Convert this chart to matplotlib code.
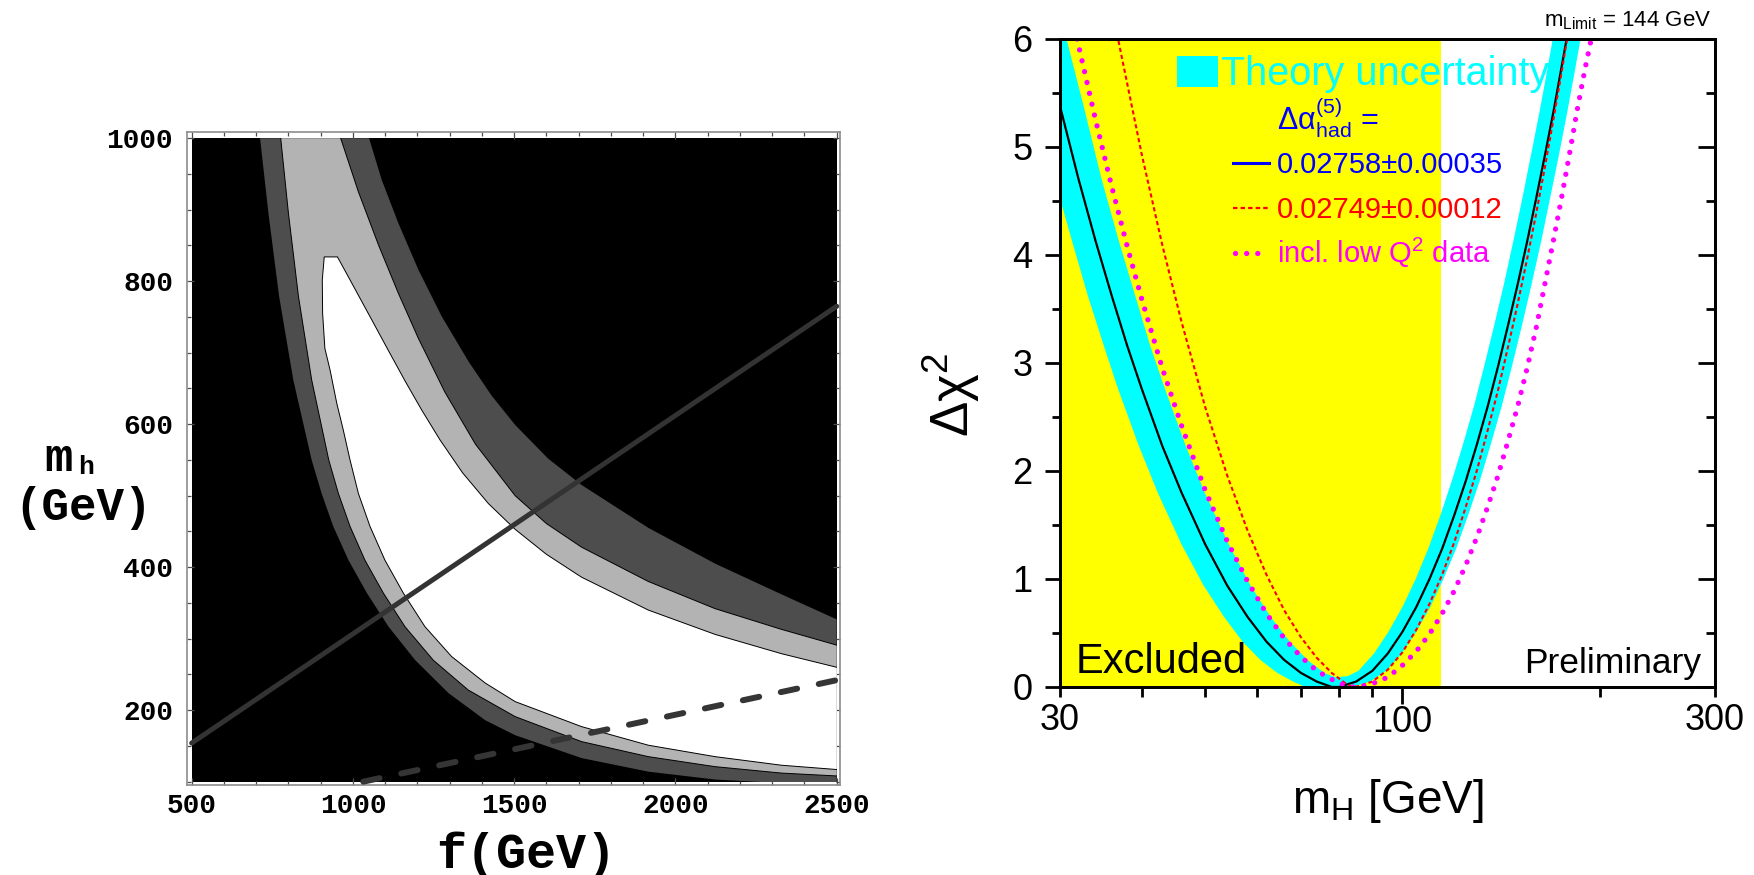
import matplotlib
matplotlib.use('Agg')
import matplotlib.pyplot as plt
from matplotlib.patches import Rectangle
from matplotlib.ticker import MultipleLocator, FixedLocator, FuncFormatter

plt.rcParams['font.family'] = ['Liberation Sans', 'DejaVu Sans']
plt.rcParams['mathtext.fontset'] = 'custom'
plt.rcParams['mathtext.rm'] = 'Liberation Sans'
plt.rcParams['mathtext.it'] = 'Liberation Sans:italic'
plt.rcParams['mathtext.bf'] = 'Liberation Sans:bold'

# ---------------- left panel: (f, m_h) plane, contour edges
f_lim = [500, 2500]
mh_lim = [100, 1000]
f_ticks = [500, 1000, 1500, 2000, 2500]
mh_ticks = [200, 400, 600, 800, 1000]

# dark grey band: lower-left edge and upper-right edge
dark_lo_f = [712, 738, 771, 815, 872, 903, 939, 986, 1043, 1110, 1193, 1296, 1410, 1503, 1709, 1916, 2123, 2247, 2500]
dark_lo_m = [1000, 895, 779, 662, 550, 503, 457, 410, 364, 317, 270, 224, 186, 165, 133, 114, 103, 100, 94]
dark_hi_f = [1050, 1089, 1141, 1203, 1275, 1358, 1430, 1503, 1605, 1709, 1916, 2123, 2329, 2500]
dark_hi_m = [1000, 942, 881, 816, 751, 688, 640, 599, 552, 515, 455, 405, 362, 327]
# light grey band
light_lo_f = [776, 800, 831, 872, 925, 955, 991, 1037, 1094, 1161, 1249, 1358, 1503, 1709, 1916, 2123, 2329, 2500]
light_lo_m = [1000, 895, 779, 662, 550, 503, 457, 410, 364, 317, 270, 228, 191, 156, 135, 121, 112, 108]
light_hi_f = [962, 1017, 1079, 1141, 1203, 1285, 1380, 1503, 1600, 1709, 1916, 2123, 2329, 2500]
light_hi_m = [1000, 925, 851, 783, 720, 645, 572, 500, 461, 428, 380, 342, 313, 291]
# allowed (white) region
white_lo_f = [911, 905, 906, 913, 929, 950, 970, 991, 1017, 1053, 1099, 1156, 1223, 1306, 1410, 1503, 1709, 1916, 2123, 2329, 2500]
white_lo_m = [834, 802, 755, 706, 676, 629, 592, 550, 503, 457, 410, 364, 317, 275, 238, 212, 177, 151, 135, 123, 117]
white_hi_f = [952, 986, 1027, 1068, 1110, 1161, 1213, 1270, 1340, 1420, 1503, 1600, 1709, 1916, 2123, 2329, 2500]
white_hi_m = [834, 806, 772, 738, 703, 661, 620, 578, 532, 489, 453, 418, 386, 340, 306, 279, 260]

solid_f = [500, 2500]
solid_m = [154, 765]
dashed_f = [1032, 2500]
dashed_m = [100, 242]

# ---------------- right panel: delta chi^2 vs m_H
lep_limit = 114.4
fit_mh = [30, 32, 34, 36, 38, 40, 43, 46, 50, 54, 58, 62, 66, 70, 74, 78, 80, 85, 90, 95, 100,
          105, 110, 115, 120, 125, 130, 135, 140, 145, 150, 155, 160, 165, 170, 175, 180]
fit_chi2 = [5.38, 4.71, 4.13, 3.62, 3.16, 2.76, 2.23, 1.80, 1.32, 0.94, 0.65, 0.42, 0.25, 0.13, 0.05, 0.00, 0.00,
            0.05, 0.15, 0.31, 0.51, 0.74, 1.00, 1.28, 1.59, 1.91, 2.25, 2.60, 2.97, 3.35, 3.73, 4.12, 4.52,
            4.92, 5.32, 5.74, 6.15]

# theory band: lower envelope (outer edge) and upper envelope (inner edge)
band_lo_mh = [27.6, 29.4, 31.3, 33.1, 35.0, 36.8, 39.6, 42.3, 46.0, 49.7, 53.4, 57.0, 60.7, 64.4, 68.1, 71.0,
              84.0, 89.3, 94.5, 99.8, 105.0, 110.3, 115.5, 120.8, 126.0, 131.3, 136.5, 141.8, 147.0, 152.3,
              157.5, 162.8, 168.0, 173.3, 178.5, 183.8, 189.0]
band_lo_chi2 = [5.38, 4.71, 4.13, 3.62, 3.16, 2.76, 2.23, 1.80, 1.32, 0.94, 0.65, 0.42, 0.25, 0.13, 0.05, 0.00,
                0.00, 0.05, 0.15, 0.31, 0.51, 0.74, 1.00, 1.28, 1.59, 1.91, 2.25, 2.60, 2.97, 3.35,
                3.73, 4.12, 4.52, 4.92, 5.32, 5.74, 6.15]
band_hi_mh = [29.6, 30.7, 32.6, 34.7, 36.9, 39.1, 41.2, 43.4, 46.7, 49.9, 54.3, 58.6, 62.9, 67.3, 71.6, 76.0,
              79.0, 82.5, 85.7, 90.5, 95.2, 100.0, 104.8, 109.5, 114.3, 119.0, 123.8, 128.6, 133.3, 138.1,
              142.9, 147.6, 152.4, 157.1, 161.9, 166.7, 171.4]
band_hi_chi2 = [6.60, 6.00, 5.38, 4.71, 4.13, 3.62, 3.16, 2.76, 2.23, 1.80, 1.32, 0.94, 0.65, 0.42, 0.25, 0.13,
                0.09, 0.10, 0.15, 0.31, 0.51, 0.74, 1.00, 1.28, 1.59, 1.91, 2.25, 2.60, 2.97, 3.35,
                3.73, 4.12, 4.52, 4.92, 5.32, 5.74, 6.15]

# dAlpha = 0.02749 +- 0.00012
alt_mh = [36.5, 37, 40, 43, 46, 50, 54, 58, 62, 66, 70, 74, 78, 82, 84, 86, 90, 95, 100, 105, 110, 115,
          120, 125, 130, 135, 140, 145, 150, 155, 160, 165, 170, 175, 180]
alt_chi2 = [6.11, 5.93, 4.93, 4.09, 3.38, 2.59, 1.96, 1.45, 1.04, 0.71, 0.46, 0.27, 0.13, 0.03, 0.00, 0.01,
            0.05, 0.16, 0.32, 0.53, 0.77, 1.04, 1.34, 1.67, 2.01, 2.38, 2.75, 3.15, 3.55, 3.96, 4.38,
            4.81, 5.25, 5.69, 6.14]

# including low-Q^2 data
lowq_mh = [31.6, 32, 34, 36, 38, 40, 43, 46, 50, 54, 58, 62, 66, 70, 74, 78, 82, 84, 86, 90, 95, 100, 105,
           110, 115, 120, 125, 130, 135, 140, 145, 150, 155, 160, 165, 170, 175, 180, 185, 190, 195]
lowq_chi2 = [6.10, 5.95, 5.25, 4.63, 4.08, 3.59, 2.95, 2.42, 1.82, 1.35, 0.98, 0.68, 0.45, 0.28, 0.15, 0.07,
             0.01, 0.00, 0.00, 0.03, 0.09, 0.20, 0.33, 0.49, 0.68, 0.89, 1.13, 1.39, 1.67, 1.96, 2.28, 2.60,
             2.95, 3.32, 3.73, 4.13, 4.53, 4.94, 5.35, 5.72, 6.05]

mh_labels_r = [30, 100, 300]
mh_minor_r = [30, 40, 50, 60, 70, 80, 90, 200, 300]

fig = plt.figure(figsize=(17.54, 8.75), dpi=100)

# ---------------- left
ax = fig.add_axes([0.1066, 0.1029, 0.3723, 0.7463])
ax.set_xlim(485.4, 2510.2)
ax.set_ylim(95.4, 1008.8)
ax.fill_between(f_lim, mh_lim[0], mh_lim[1], color='black', lw=0, zorder=1)
clip = Rectangle((f_lim[0], mh_lim[0]), f_lim[1] - f_lim[0], mh_lim[1] - mh_lim[0],
                 transform=ax.transData)
regions = [(dark_lo_f, dark_lo_m, dark_hi_f, dark_hi_m, '#4d4d4d'),
           (light_lo_f, light_lo_m, light_hi_f, light_hi_m, '#b3b3b3'),
           (white_lo_f, white_lo_m, white_hi_f, white_hi_m, 'white')]
for lo_f, lo_m, hi_f, hi_m, col in regions:
    poly, = ax.fill(lo_f + hi_f[::-1], lo_m + hi_m[::-1], color=col, lw=0, zorder=2)
    poly.set_clip_path(clip)
edges = [(light_lo_f, light_lo_m), (light_hi_f, light_hi_m),
         (white_lo_f[::-1] + white_hi_f, white_lo_m[::-1] + white_hi_m)]
for xs, ys in edges:
    ln, = ax.plot(xs, ys, color='black', lw=0.7, zorder=3)
    ln.set_clip_path(clip)
ax.plot(solid_f, solid_m, color='#333333', lw=3.6, solid_capstyle='round', zorder=4)
ax.plot(dashed_f, dashed_m, color='#353535', lw=4.3, dashes=(2.8, 3.7),
        dash_capstyle='round', zorder=4)

ax.xaxis.set_major_locator(FixedLocator(f_ticks))
ax.xaxis.set_minor_locator(MultipleLocator(100))
ax.yaxis.set_major_locator(FixedLocator(mh_ticks))
ax.yaxis.set_minor_locator(MultipleLocator(50))
ax.set_xticklabels([str(v) for v in f_ticks], fontfamily='Liberation Mono',
                   fontweight='bold', fontsize=20)
ax.set_yticklabels([str(v) for v in mh_ticks], fontfamily='Liberation Mono',
                   fontweight='bold', fontsize=20)
ax.tick_params(which='both', direction='in', top=True, right=True, color='0.3', width=0.9)
ax.tick_params(which='major', length=5)
ax.tick_params(which='minor', length=3)
ax.tick_params(axis='x', pad=6)
ax.tick_params(axis='y', pad=10)
for sp in ax.spines.values():
    sp.set_color('0.55')
    sp.set_linewidth(1.2)

mono = dict(fontfamily='Liberation Mono', fontweight='bold', color='black')
fig.text(44 / 1754, 1 - 471 / 875, 'm', fontsize=34, ha='left', va='baseline', **mono)
fig.text(78 / 1754, 1 - 474 / 875, 'h', fontsize=19, ha='left', va='baseline', **mono)
fig.text(83 / 1754, 1 - 520 / 875, '(GeV)', fontsize=33, ha='center', va='baseline', **mono)
fig.text(526 / 1754, 1 - 868 / 875, 'f(GeV)', fontsize=36, ha='center', va='baseline', **mono)

# ---------------- right
ax2 = fig.add_axes([0.6043, 0.2149, 0.3734, 0.7406])
ax2.set_xscale('log')
ax2.set_xlim(30, 300)
ax2.set_ylim(0, 6)
ax2.axvspan(30, lep_limit, color='#ffff00', lw=0, zorder=0)
ax2.fill(band_lo_mh + band_hi_mh[::-1], band_lo_chi2 + band_hi_chi2[::-1],
         color='#00ffff', lw=0, zorder=1)
ax2.plot(fit_mh, fit_chi2, color='black', lw=1.6, zorder=3)
ax2.plot(alt_mh, alt_chi2, color='red', lw=1.5, dashes=(2, 1.4), zorder=3)
ax2.plot(lowq_mh, lowq_chi2, color='magenta', lw=3.8, dashes=(0.01, 2.1),
         dash_capstyle='round', zorder=4)

# 100 carries the long tick; 30 and 300 are labelled short ticks
ax2.xaxis.set_major_locator(FixedLocator([100]))
ax2.xaxis.set_major_formatter(FuncFormatter(lambda v, p: '100'))
ax2.xaxis.set_minor_locator(FixedLocator(mh_minor_r))
ax2.xaxis.set_minor_formatter(FuncFormatter(
    lambda v, p: str(int(round(v))) if int(round(v)) in mh_labels_r else ''))
ax2.set_yticks(range(7))
ax2.yaxis.set_minor_locator(MultipleLocator(0.5))
ax2.tick_params(axis='x', which='major', direction='out', length=12, width=2, labelsize=26, pad=1)
ax2.tick_params(axis='x', which='minor', direction='out', length=7, width=2, labelsize=26, pad=4.5)
ax2.tick_params(axis='y', which='major', direction='out', length=11, width=2, labelsize=26, pad=9)
ax2.tick_params(axis='y', which='minor', direction='out', length=6, width=2)

ax3 = ax2.twinx()
ax3.set_ylim(0, 6)
ax3.set_yticks(range(7))
ax3.yaxis.set_minor_locator(MultipleLocator(0.5))
ax3.tick_params(axis='y', which='major', direction='in', length=12.5, width=2, labelright=False)
ax3.tick_params(axis='y', which='minor', direction='in', length=6.5, width=2)
for a in (ax2, ax3):
    for sp in a.spines.values():
        sp.set_linewidth(2)

tr = ax2.transAxes
ax2.add_patch(Rectangle((0.179, 0.926), 0.062, 0.048, transform=tr,
                        color='#00ffff', lw=0, zorder=5))
ax2.text(0.246, 0.929, 'Theory uncertainty', color='#00ffff', fontsize=28.5,
         transform=tr, va='baseline', zorder=5)
ax2.text(0.331, 0.860, 'Δα$^{(5)}_{\\mathrm{had}}$ =', color='blue', fontsize=22,
         transform=tr, va='baseline', zorder=5)
ax2.plot([0.264, 0.319], [0.809, 0.809], color='blue', lw=2.2, transform=tr, zorder=5)
ax2.text(0.331, 0.793, '0.02758±0.00035', color='blue', fontsize=21,
         transform=tr, va='baseline', zorder=5)
ax2.plot([0.264, 0.319], [0.739, 0.739], color='red', lw=1.6, dashes=(2, 1.4),
         transform=tr, zorder=5)
ax2.text(0.331, 0.724, '0.02749±0.00012', color='red', fontsize=21,
         transform=tr, va='baseline', zorder=5)
ax2.plot([0.268, 0.318], [0.670, 0.670], color='magenta', lw=3.8, dashes=(0.01, 2.1),
         dash_capstyle='round', transform=tr, zorder=5)
ax2.text(0.331, 0.654, 'incl. low Q$^{2}$ data', color='magenta', fontsize=21,
         transform=tr, va='baseline', zorder=5)

ax2.text(0.024, 0.0216, 'Excluded', fontsize=30, transform=tr, va='baseline', zorder=5)
ax2.text(0.979, 0.0216, 'Preliminary', fontsize=25.5, transform=tr, ha='right',
         va='baseline', zorder=5)
ax2.text(0.995, 1.020, 'm$_{\\mathrm{Limit}}$ = 144 GeV', fontsize=16, transform=tr,
         ha='right', va='baseline')
ax2.text(0.5, -0.194, 'm$_{\\mathrm{H}}$ [GeV]', fontsize=33, transform=tr,
         ha='center', va='baseline')
ax2.text(-0.166, 0.451, 'Δχ$^{2}$', fontsize=38, rotation=90, transform=tr,
         ha='center', va='center')

fig.savefig('out.png', dpi=100)
